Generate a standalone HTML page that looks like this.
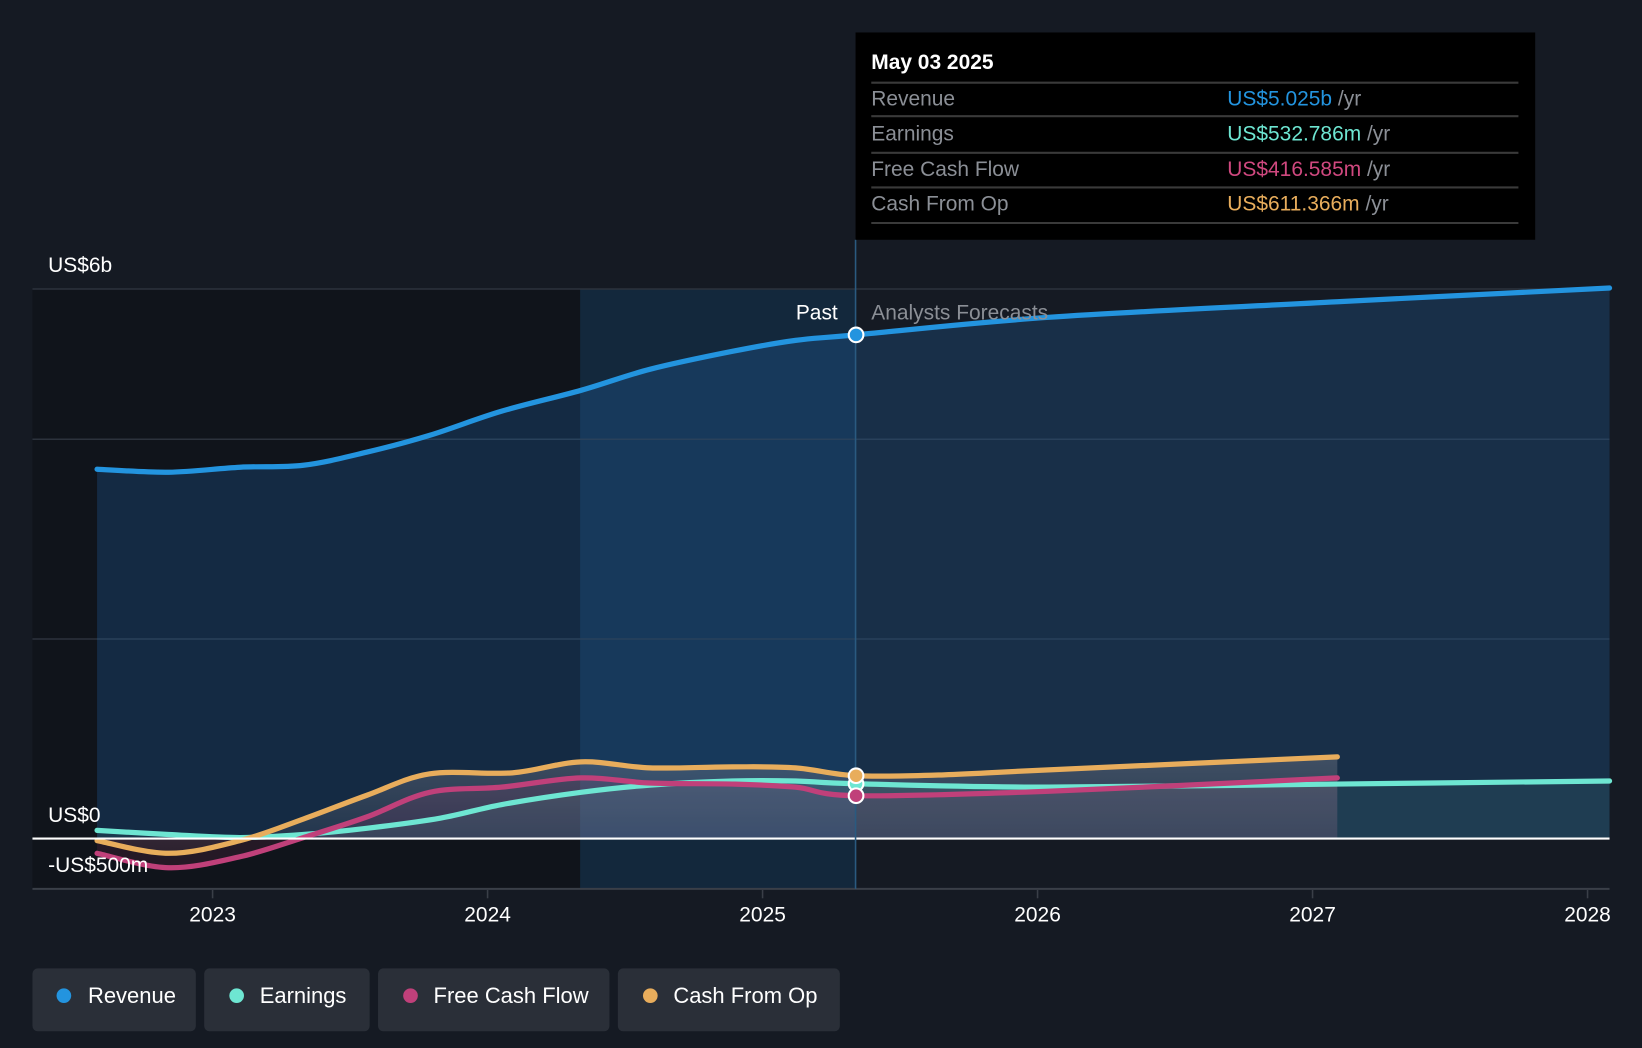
<!DOCTYPE html>
<html><head><meta charset="utf-8"><style>
html,body{margin:0;padding:0;background:#151a23;}
svg{display:block;font-family:"Liberation Sans",sans-serif;}
</style></head><body>
<svg id="chart" width="1642" height="1048" viewBox="0 0 1568 1001" preserveAspectRatio="none" xmlns="http://www.w3.org/2000/svg">
<defs>
<linearGradient id="gOther" x1="0" y1="0" x2="0" y2="1"><stop offset="0" stop-color="#8a8a95" stop-opacity="0.35"/><stop offset="1" stop-color="#8a8a95" stop-opacity="0.08"/></linearGradient>
</defs>
<rect x="0" y="0" width="1568" height="1001" fill="#151a23"/>
<rect x="31" y="276" width="523" height="573" fill="#10141b"/>
<rect x="554" y="276" width="263" height="573" fill="#13283c"/>
<g id="grid"></g>
<g id="areas"></g>
<g id="lines"></g>
<line x1="31" y1="801" x2="1537" y2="801" stroke="#ffffff" stroke-width="2"/>
<line x1="31" y1="849" x2="1537" y2="849" stroke="#3a3f48" stroke-width="2"/>
<line x1="817" y1="229" x2="817" y2="849" stroke="#2a5a80" stroke-width="1.5"/>
<g id="xticks"></g>
<g id="dots"></g>
<text x="46" y="260" fill="#fff" font-size="20">US$6b</text>
<text x="46" y="785" fill="#fff" font-size="20">US$0</text>
<text x="46" y="833" fill="#fff" font-size="20">-US$500m</text>
<text x="800" y="305" fill="#fff" font-size="20" text-anchor="end">Past</text>
<text x="832" y="305" fill="#8b8f96" font-size="20">Analysts Forecasts</text>
<g>
<rect x="817" y="31" width="649" height="198" fill="#000"/>
<text x="832" y="66" fill="#fff" font-size="20" font-weight="bold">May 03 2025</text>
<g stroke="#3a3a3a" stroke-width="2"><line x1="832" y1="79" x2="1450" y2="79"/><line x1="832" y1="111" x2="1450" y2="111"/><line x1="832" y1="146" x2="1450" y2="146"/><line x1="832" y1="179" x2="1450" y2="179"/><line x1="832" y1="213" x2="1450" y2="213"/></g>
<g font-size="20" fill="#8b8f96">
<text x="832" y="101">Revenue</text><text x="832" y="134">Earnings</text><text x="832" y="168">Free Cash Flow</text><text x="832" y="201">Cash From Op</text>
</g>
<g font-size="20">
<text x="1172" y="101"><tspan fill="#2394df">US$5.025b</tspan><tspan fill="#8b8f96"> /yr</tspan></text>
<text x="1172" y="134"><tspan fill="#6ee6d2">US$532.786m</tspan><tspan fill="#8b8f96"> /yr</tspan></text>
<text x="1172" y="168"><tspan fill="#d0487f">US$416.585m</tspan><tspan fill="#8b8f96"> /yr</tspan></text>
<text x="1172" y="201"><tspan fill="#e8ad5c">US$611.366m</tspan><tspan fill="#8b8f96"> /yr</tspan></text>
</g>
</g>
<g font-size="21" fill="#fff">
<g><rect x="31" y="925" width="156" height="60" rx="5" fill="#2a2f38"/><circle cx="61" cy="951" r="7" fill="#2394df"/><text x="84" y="958" fill="#fff">Revenue</text></g>
<g><rect x="195" y="925" width="158" height="60" rx="5" fill="#2a2f38"/><circle cx="226" cy="951" r="7" fill="#6ee6d2"/><text x="248" y="958" fill="#fff">Earnings</text></g>
<g><rect x="361" y="925" width="221" height="60" rx="5" fill="#2a2f38"/><circle cx="392" cy="951" r="7" fill="#c0407a"/><text x="414" y="958" fill="#fff">Free Cash Flow</text></g>
<g><rect x="590" y="925" width="212" height="60" rx="5" fill="#2a2f38"/><circle cx="621" cy="951" r="7" fill="#e8ad5c"/><text x="643" y="958" fill="#fff">Cash From Op</text></g>
</g>
</svg>
<script>
const revT=[2022.58,2022.84,2023.10,2023.33,2023.56,2023.79,2024.05,2024.34,2024.59,2024.89,2025.12,2025.34,2026.04,2027.09,2028.08];
const revV=[3.68,3.65,3.70,3.72,3.85,4.02,4.26,4.47,4.68,4.86,4.97,5.025,5.40,5.73,6.02];
const earnT=[2022.58,2022.84,2023.10,2023.33,2023.56,2023.83,2024.05,2024.34,2024.59,2024.89,2025.12,2025.34,2026.04,2027.09,2028.08];
const earnV=[0.08,0.04,0.01,0.04,0.10,0.20,0.33,0.45,0.52,0.56,0.56,0.533,0.50,0.53,0.56];
const fcfT=[2022.58,2022.84,2023.10,2023.33,2023.56,2023.79,2024.05,2024.34,2024.59,2024.89,2025.12,2025.34,2026.04,2027.09];
const fcfV=[-0.146,-0.29,-0.18,0.01,0.21,0.45,0.50,0.59,0.54,0.53,0.50,0.417,0.46,0.59];
const cfoT=[2022.58,2022.84,2023.10,2023.33,2023.56,2023.79,2024.09,2024.34,2024.59,2024.89,2025.12,2025.34,2025.66,2026.04,2027.09];
const cfoV=[-0.02,-0.146,-0.02,0.19,0.42,0.63,0.64,0.75,0.69,0.70,0.69,0.611,0.62,0.67,0.80];
const xTickYears=[2023,2024,2025,2026,2027,2028];
const gridVals=[6,3.98,1.98];

const NS='http://www.w3.org/2000/svg';
function x(t){return 203+(t-2023)*262.6;}
function y(v){
  if(v<0) return 801-v*96;
  if(v<=0.6) return 801-v*98.3;
  if(v<=5.025) return 742-(v-0.6)*95.4;
  return 320-(v-5.025)*45.1;
}
function mk(tag,attrs,parent){const e=document.createElementNS(NS,tag);for(const k in attrs)e.setAttribute(k,attrs[k]);parent.appendChild(e);return e;}
function pathD(T,V){
  const p=T.map((t,i)=>[x(t),y(V[i])]);
  let d='M'+p[0][0]+','+p[0][1];
  for(let i=0;i<p.length-1;i++){
    const p0=p[i-1]||p[i],p1=p[i],p2=p[i+1],p3=p[i+2]||p2;
    const c1=[p1[0]+(p2[0]-p0[0])/6,p1[1]+(p2[1]-p0[1])/6];
    const c2=[p2[0]-(p3[0]-p1[0])/6,p2[1]-(p3[1]-p1[1])/6];
    d+=' C'+c1[0]+','+c1[1]+' '+c2[0]+','+c2[1]+' '+p2[0]+','+p2[1];
  }
  return d;
}
const grid=document.getElementById('grid');
gridVals.forEach(v=>{
  const l=mk('line',{x1:31,x2:1537,y1:y(v),y2:y(v),stroke:'#2c323c','stroke-width':1.5},grid);
  
  
});
const areas=document.getElementById('areas'),lines=document.getElementById('lines');
function area(T,V,fill,name){
  const d=pathD(T,V)+' L'+x(T[T.length-1])+',801 L'+x(T[0])+',801 Z';
  const a=mk('path',{d:d,fill:fill},areas);
  
  
}
area(revT,revV,'rgba(35,110,180,0.26)','revenue-area');
area(cfoT,cfoV,'url(#gOther)','cash-from-op-area');
area(fcfT,fcfV,'rgba(192,64,122,0.12)','free-cash-flow-area');
area(earnT,earnV,'rgba(110,230,210,0.08)','earnings-area');
function line(T,V,col,name){
  const l=mk('path',{d:pathD(T,V),fill:'none',stroke:col,'stroke-width':5,'stroke-linecap':'round'},lines);
  
  
}
line(earnT,earnV,'#6ee6d2','earnings-line');
line(fcfT,fcfV,'#c0407a','free-cash-flow-line');
line(cfoT,cfoV,'#e8ad5c','cash-from-op-line');
line(revT,revV,'#2394df','revenue-line');
const xt=document.getElementById('xticks');
xTickYears.forEach(yr=>{
  const tk=mk('line',{x1:x(yr),x2:x(yr),y1:850,y2:858,stroke:'#3a3f48','stroke-width':1.5},xt);
  
  
  const t=mk('text',{x:x(yr),y:880,fill:'#fff','font-size':20,'text-anchor':'middle'},xt);
  t.textContent=yr;
  
  
});
const dots=document.getElementById('dots');
[[earnT,earnV,'#6ee6d2','earnings-dot'],[fcfT,fcfV,'#c0407a','free-cash-flow-dot'],[cfoT,cfoV,'#e8ad5c','cash-from-op-dot'],[revT,revV,'#2394df','revenue-dot']].forEach(s=>{
  const i=s[0].indexOf(2025.34);
  const c=mk('circle',{cx:x(s[0][i]),cy:y(s[1][i]),r:7,fill:s[2],stroke:'#fff','stroke-width':2},dots);
  
  
});
</script>
</body></html>
